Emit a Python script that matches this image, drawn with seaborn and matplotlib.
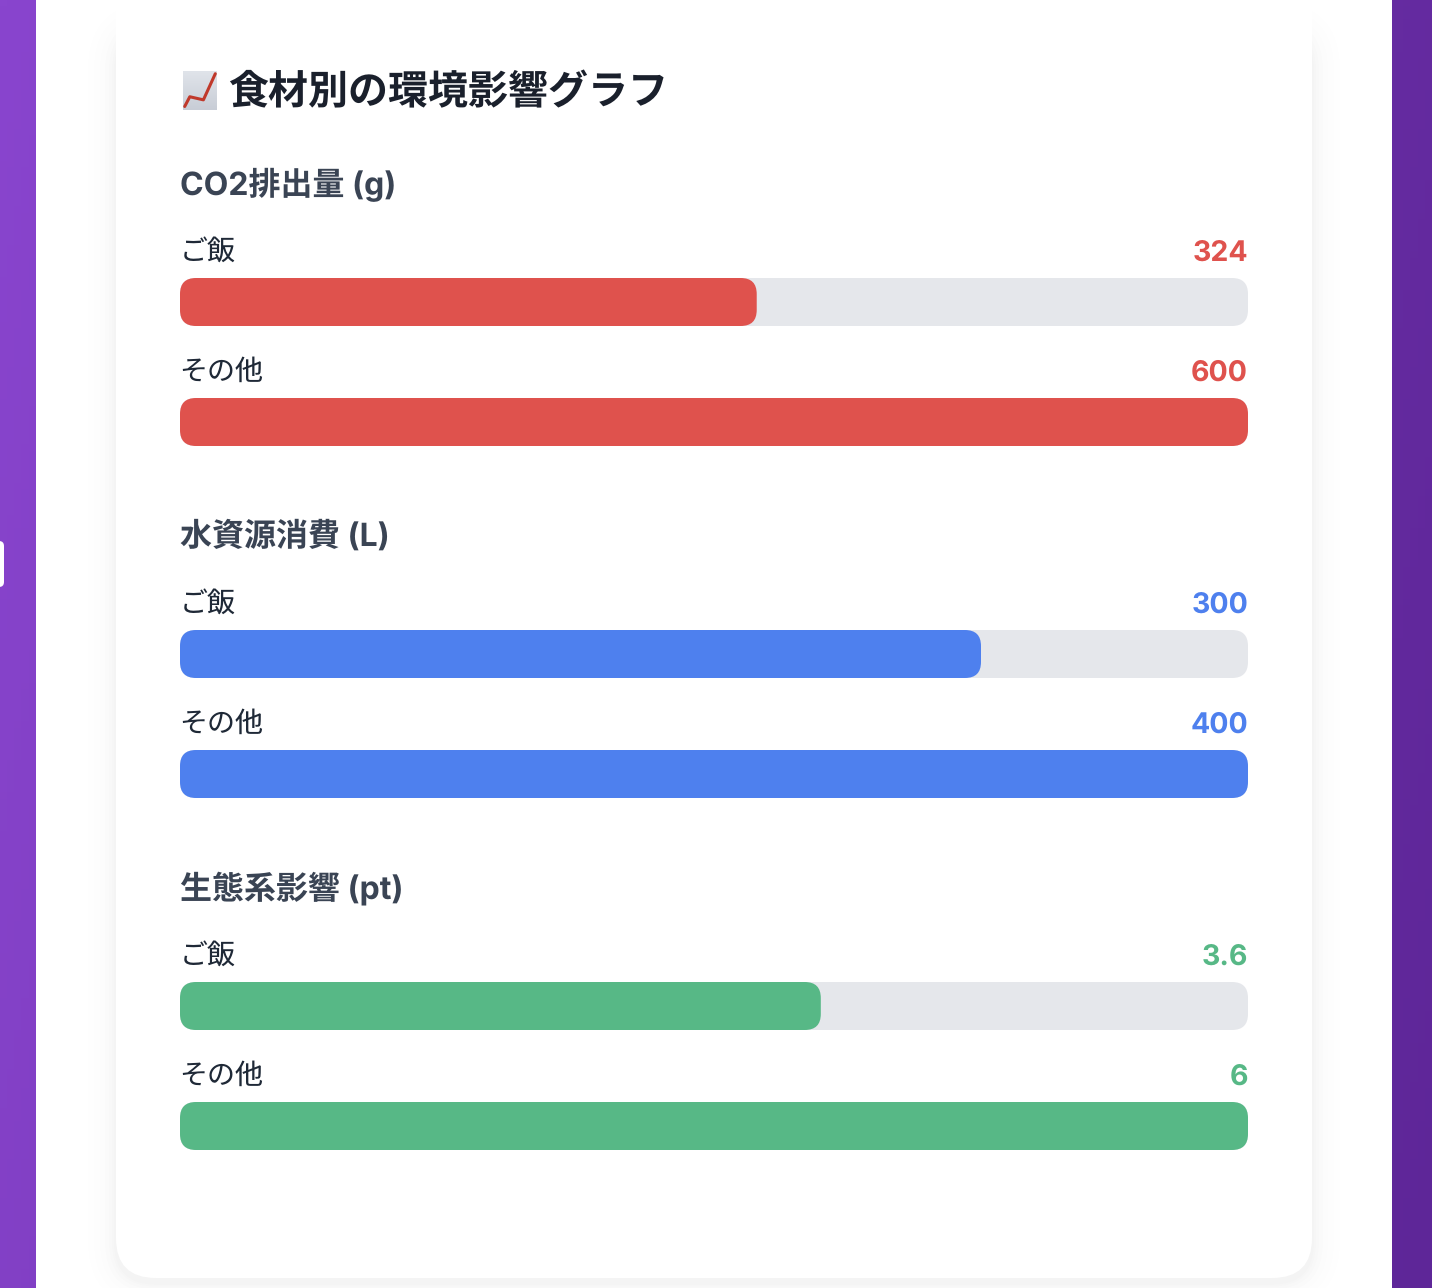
import numpy as np
import pandas as pd
import matplotlib
matplotlib.use("Agg")
import matplotlib.pyplot as plt
from matplotlib.patches import FancyBboxPatch
from matplotlib.transforms import IdentityTransform
import seaborn as sns

# Values
foods = ["ご飯", "その他"]
co2_values = [324, 600]
water_values = [300, 400]
eco_values = [3.6, 6]
section_titles = ["CO2排出量 (g)", "水資源消費 (L)", "生態系影響 (pt)"]
section_colors = ["#df524d", "#4e80ee", "#57b886"]
chart_title = "食材別の環境影響グラフ"

# little 📈 icon, no colour emoji font here
icon_x = [0.05, 0.2, 0.6, 0.95]
icon_y = [0.09, 0.34, 0.26, 0.93]

W, H = 1432, 1288
sns.set_theme(style="white")
FONT = ["Inter", "Noto Sans CJK JP", "DejaVu Sans"]
plt.rcParams["font.family"] = FONT
plt.rcParams["text.hinting"] = "no_hinting"


def px(size):
    return size * 0.72


def rounded(x0, y0, x1, y1, r, **kw):
    return FancyBboxPatch((x0, y0), x1 - x0, y1 - y0,
                          boxstyle=f"round,pad=0,rounding_size={r}", **kw)


fig = plt.figure(figsize=(W / 100, H / 100), dpi=100, facecolor="white")
bg = fig.add_axes([0, 0, 1, 1])
bg.set_xlim(0, W)
bg.set_ylim(H, 0)
bg.axis("off")

# purple page gradient, only visible at the sides
xx, yy = np.meshgrid(np.linspace(0, 1, 200), np.linspace(0, 1, 200))
t = 0.85 * xx + 0.15 * yy
c0 = np.array([0x89, 0x45, 0xce]) / 255
c1 = np.array([0x5e, 0x26, 0x98]) / 255
grad = c0[None, None, :] * (1 - t[..., None]) + c1[None, None, :] * t[..., None]
bg.imshow(grad, extent=[0, W, H, 0], aspect="auto", zorder=0)
bg.set_xlim(0, W)
bg.set_ylim(H, 0)

# white page and the card with a soft shadow
bg.add_patch(plt.Rectangle((36, -5), 1356, H + 10, fc="white", ec="none", zorder=1))
for grow, alpha in zip([28, 22, 16, 11, 7, 4, 2], [.003, .004, .005, .006, .007, .008, .009]):
    bg.add_patch(rounded(116 - grow, 30 - grow, 1312 + grow, 1278 + grow * 0.9 + 5, 40 + grow,
                         fc="black", ec="none", alpha=alpha, zorder=2))
bg.add_patch(rounded(116, -60, 1312, 1278, 40, fc="white", ec="none", zorder=3))

# small white tab on the left edge
bg.add_patch(rounded(-10, 541, 4, 587, 5, fc="white", ec="none", zorder=3))

# title
bg.text(228, 93, chart_title, fontsize=px(40), fontweight="bold", color="#1a202c",
        va="center", ha="left", zorder=5)

# icon
icon_ax = fig.add_axes([183 / W, 1 - 110 / H, 34 / W, 39 / H])
ramp = np.linspace(0, 1, 50)[:, None, None]
icon_img = (1 - ramp) * np.array([0xe0, 0xe4, 0xea]) / 255 + ramp * np.array([0xc8, 0xcd, 0xd6]) / 255
icon_ax.imshow(icon_img, extent=[0, 1, 0, 1], aspect="auto")
sns.lineplot(x=icon_x, y=icon_y, color="#c0392b", linewidth=2.2, ax=icon_ax, legend=False)
icon_ax.set_xlim(0, 1)
icon_ax.set_ylim(0, 1)
icon_ax.axis("off")

sections = [co2_values, water_values, eco_values]
heading_y = [184.5, 536.5, 888.5]
bar_tops = [[278, 398], [630, 750], [982, 1102]]
BAR_L, BAR_R, BAR_H = 180, 1248, 48

for values, title, color, hy, tops in zip(sections, section_titles, section_colors, heading_y, bar_tops):
    bg.text(180, hy, title, fontsize=px(32), fontweight="bold", color="#3a4454",
            va="center", ha="left", zorder=5)
    top_value = max(values)
    for food, value, top in zip(foods, values, tops):
        bg.text(179.5, top - 26, food, fontsize=px(28), color="#1f2937",
                va="center", ha="left", zorder=5)
        label = f"{value:g}"
        bg.text(BAR_R, top - 25, label, fontsize=px(28.5), fontweight="bold", color=color,
                va="center", ha="right", zorder=5)

        bg.add_patch(rounded(BAR_L, top, BAR_R, top + BAR_H, 16, fc="#e5e7eb", ec="none", zorder=4))

        ax = fig.add_axes([BAR_L / W, 1 - (top + BAR_H) / H, (BAR_R - BAR_L) / W, BAR_H / H])
        ax.patch.set_alpha(0)
        df = pd.DataFrame({"food": [food], "value": [value]})
        sns.barplot(data=df, x="value", y="food", color=color, saturation=1, width=1, ax=ax)
        ax.set_xlim(0, top_value)
        ax.set_ylim(0.5, -0.5)
        ax.axis("off")

        # swap the square bar for a rounded one, same extents
        fig.canvas.draw()
        for bar in list(ax.patches):
            ext = bar.get_window_extent()
            bar.set_visible(False)
            ax.add_patch(rounded(ext.x0, ext.y0, ext.x1, ext.y1, 16, fc=color, ec="none",
                                 transform=IdentityTransform(), clip_on=False))

fig.savefig("out.png", dpi=100)
